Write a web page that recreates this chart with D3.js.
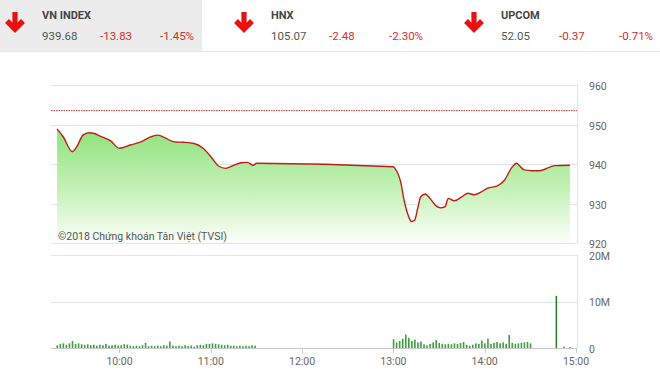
<!DOCTYPE html>
<html>
<head>
<meta charset="utf-8">
<script src="https://cdn.jsdelivr.net/npm/d3@7"></script>
<style>
  body { margin: 0; background: #fff; font-family: Roboto, "Noto Sans", sans-serif; }
  svg text { font-family: Roboto, "Noto Sans", sans-serif; }
</style>
</head>
<body>
<main></main>
<script>
// header quotes
const markets = ['VN INDEX', 'HNX', 'UPCOM'];
const lastValues = ['939.68', '105.07', '52.05'];
const changes = ['-13.83', '-2.48', '-0.37'];
const changePcts = ['-1.45%', '-2.30%', '-0.71%'];

// intraday VN-Index (time, value)
const priceTimes = ['9:19', '9:23', '9:29', '9:32', '9:36', '9:40', '9:43', '9:47', '9:54', '10:00',
  '10:07', '10:14', '10:20', '10:25', '10:29', '10:36', '10:42', '10:49', '10:55', '11:01',
  '11:05', '11:10', '11:14', '11:20', '11:24', '11:28', '11:30', '13:00', '13:01', '13:05',
  '13:07', '13:10', '13:12', '13:14', '13:16', '13:18', '13:21', '13:24', '13:28', '13:31',
  '13:34', '13:36', '13:40', '13:45', '13:49', '13:53', '13:58', '14:02', '14:08', '14:13',
  '14:18', '14:21', '14:23', '14:26', '14:31', '14:36', '14:46', '14:56'];
const priceValues = [948.9, 946.9, 943.1, 944.4, 947.3, 947.9, 947.8, 947.1, 945.9, 944.0,
  944.8, 945.6, 946.8, 947.3, 946.8, 945.6, 945.5, 945.2, 944.0, 941.4,
  939.5, 938.9, 939.5, 940.3, 940.4, 939.7, 940.2, 939.3, 938.9, 935.1,
  930.9, 926.7, 925.4, 925.8, 928.8, 931.7, 932.4, 931.3, 929.4, 928.9,
  929.2, 931.3, 930.7, 931.7, 932.6, 932.2, 933.0, 933.9, 934.4, 935.9,
  939.2, 940.2, 939.5, 938.5, 938.3, 938.3, 939.6, 939.68];
const refValue = 953.51;

// volume in millions, every 2 minutes
const morningStart = '9:19';
const morningVolume = [0.6, 0.9, 1.0, 0.7, 1.0, 1.5, 0.9, 1.0, 0.8, 0.7, 0.8, 0.6, 0.7, 0.5, 0.7, 0.6,
  0.9, 0.5, 0.6, 0.7, 0.5, 0.6, 0.8, 0.7, 0.5, 0.4, 0.5, 0.4, 0.6, 1.1, 0.4, 0.5,
  0.4, 0.5, 0.4, 0.6, 0.5, 1.4, 0.5, 0.4, 0.5, 0.4, 0.6, 0.4, 0.5, 0.3, 0.6, 0.7,
  0.6, 0.9, 0.9, 1.0, 0.9, 0.8, 0.7, 0.6, 0.7, 0.5, 0.5, 0.4, 0.5, 0.4, 0.5, 0.4,
  0.6, 0.5];
const afternoonStart = '13:00';
const afternoonVolume = [1.9, 1.2, 1.5, 2.0, 2.9, 2.2, 1.5, 1.8, 1.2, 1.4, 0.8, 0.6, 0.9, 1.2, 1.7, 1.1,
  0.9, 0.8, 0.9, 0.8, 1.0, 0.9, 1.1, 1.3, 0.7, 0.5, 0.7, 1.0, 0.9, 1.6, 1.0, 2.0,
  0.9, 1.1, 1.3, 1.0, 1.2, 0.9, 2.8, 1.1, 0.9, 1.0, 1.1, 1.2, 1.3, 1.0];
const atcTimes = ['14:47', '14:52', '14:56'];
const atcVolume = [11.2, 0.3, 0.2];

const timeTicks = ['10:00', '11:00', '12:00', '13:00', '14:00', '15:00'];
const priceTicks = [920, 930, 940, 950, 960];
const volumeTicks = [0, 10, 20];

function toMin(s) {
  const p = s.split(':');
  return +p[0] * 60 + +p[1];
}

const width = 660;
const height = 374;
const left = 51, right = 577;

let svg = d3.select('main')
  .append('svg')
  .attr('width', width)
  .attr('height', height);

// ---- header ----
svg.append('rect')
  .attr('x', 0).attr('y', 0)
  .attr('width', 202).attr('height', 51)
  .attr('fill', '#ececec');
svg.append('line')
  .attr('x1', 0).attr('x2', width)
  .attr('y1', 51.5).attr('y2', 51.5)
  .attr('stroke', '#e6e6e6');

const blockX = [0, 229, 459];
markets.forEach(function (m, i) {
  const bx = blockX[i];
  const cx = bx + 15;
  let g = svg.append('g');
  g.append('rect')
    .attr('x', cx - 2.6).attr('y', 12)
    .attr('width', 5.2).attr('height', 16)
    .attr('fill', '#e8110f');
  g.append('path')
    .attr('d', 'M' + (cx - 8) + ',21 L' + cx + ',29 L' + (cx + 8) + ',21')
    .attr('fill', 'none')
    .attr('stroke', '#e8110f')
    .attr('stroke-width', 5.5)
    .attr('stroke-linejoin', 'miter');
  g.append('text')
    .attr('x', bx + 42).attr('y', 18.5)
    .attr('font-size', 11).attr('font-weight', 'bold')
    .attr('fill', '#444')
    .text(m);
  g.append('text')
    .attr('x', bx + 42).attr('y', 39.5)
    .attr('font-size', 11.5).attr('fill', '#555')
    .text(lastValues[i]);
  g.append('text')
    .attr('x', bx + 100).attr('y', 39.5)
    .attr('font-size', 11.5).attr('fill', '#d32f2f')
    .text(changes[i]);
  g.append('text')
    .attr('x', bx + 160).attr('y', 39.5)
    .attr('font-size', 11.5).attr('fill', '#d32f2f')
    .text(changePcts[i]);
});

// ---- scales ----
const x = d3.scaleLinear().domain([toMin('9:15'), toMin('15:00')]).range([left, right - 1]);
const y = d3.scaleLinear().domain([920, 960]).range([243, 85]);
const yv = d3.scaleLinear().domain([0, 20]).range([348, 255]);

// ---- price panel ----
svg.selectAll('.pgrid')
  .data(priceTicks)
  .enter()
  .append('line')
  .attr('class', 'pgrid')
  .attr('x1', left).attr('x2', right)
  .attr('y1', function (d) { return Math.round(y(d)) + 0.5; })
  .attr('y2', function (d) { return Math.round(y(d)) + 0.5; })
  .attr('stroke', '#e3e3e3');
svg.append('line')
  .attr('x1', right + 0.5).attr('x2', right + 0.5)
  .attr('y1', y(960)).attr('y2', y(920))
  .attr('stroke', '#e3e3e3');

svg.selectAll('.plabel')
  .data(priceTicks)
  .enter()
  .append('text')
  .attr('class', 'plabel')
  .attr('x', 589)
  .attr('y', function (d) { return y(d) + 5; })
  .attr('font-size', 10.5)
  .attr('fill', '#666')
  .text(function (d) { return d; });

let defs = svg.append('defs');
let grad = defs.append('linearGradient')
  .attr('id', 'areaFill')
  .attr('gradientUnits', 'userSpaceOnUse')
  .attr('x1', 0).attr('x2', 0)
  .attr('y1', y(949)).attr('y2', y(920));
grad.append('stop').attr('offset', 0).attr('stop-color', '#8ee27c');
grad.append('stop').attr('offset', 0.55).attr('stop-color', '#c6f2b8');
grad.append('stop').attr('offset', 1).attr('stop-color', '#fbfffa');

const pts = priceTimes.map(function (t, i) { return [toMin(t), priceValues[i]]; });

svg.append('path')
  .datum(pts)
  .attr('d', d3.area()
    .x(function (d) { return x(d[0]); })
    .y0(y(920))
    .y1(function (d) { return y(d[1]); })
    .curve(d3.curveMonotoneX))
  .attr('fill', 'url(#areaFill)');

svg.append('line')
  .attr('x1', left).attr('x2', right)
  .attr('y1', y(refValue)).attr('y2', y(refValue))
  .attr('stroke', '#b5322a')
  .attr('stroke-width', 1)
  .attr('stroke-dasharray', '1.5,1');

svg.append('path')
  .datum(pts)
  .attr('d', d3.line()
    .x(function (d) { return x(d[0]); })
    .y(function (d) { return y(d[1]); })
    .curve(d3.curveMonotoneX))
  .attr('fill', 'none')
  .attr('stroke', '#bf1e16')
  .attr('stroke-width', 1.4);

svg.append('text')
  .attr('x', 58).attr('y', 239.5)
  .attr('font-size', 10.5)
  .attr('fill', '#555')
  .text('©2018 Chứng khoán Tân Việt (TVSI)');

// ---- volume panel ----
svg.selectAll('.vgrid')
  .data(volumeTicks.slice(1))
  .enter()
  .append('line')
  .attr('class', 'vgrid')
  .attr('x1', left).attr('x2', right)
  .attr('y1', function (d) { return Math.round(yv(d)) + 0.5; })
  .attr('y2', function (d) { return Math.round(yv(d)) + 0.5; })
  .attr('stroke', '#e3e3e3');
svg.append('line')
  .attr('x1', right + 0.5).attr('x2', right + 0.5)
  .attr('y1', yv(20)).attr('y2', yv(0))
  .attr('stroke', '#e3e3e3');

svg.selectAll('.vlabel')
  .data(volumeTicks)
  .enter()
  .append('text')
  .attr('class', 'vlabel')
  .attr('x', 589)
  .attr('y', function (d) { return yv(d) + 4.5; })
  .attr('font-size', 10.5)
  .attr('fill', '#666')
  .text(function (d) { return d === 0 ? '0' : d + 'M'; });

let bars = [];
morningVolume.forEach(function (v, i) { bars.push([toMin(morningStart) + i * 2, v]); });
afternoonVolume.forEach(function (v, i) { bars.push([toMin(afternoonStart) + i * 2, v]); });
atcTimes.forEach(function (t, i) { bars.push([toMin(t), atcVolume[i]]); });

svg.selectAll('.vbar')
  .data(bars)
  .enter()
  .append('rect')
  .attr('class', 'vbar')
  .attr('x', function (d) { return x(d[0]) - 0.6; })
  .attr('width', function (d) { return d[1] > 5 ? 1.4 : 1.6; })
  .attr('y', function (d) { return yv(d[1]); })
  .attr('height', function (d) { return yv(0) - yv(d[1]); })
  .attr('fill', function (d) { return d[1] > 5 ? '#1f7d1f' : '#3c9e3c'; });

// time axis
svg.append('line')
  .attr('x1', left).attr('x2', right)
  .attr('y1', 348.5).attr('y2', 348.5)
  .attr('stroke', '#c8c8c8');

svg.selectAll('.xtick')
  .data(timeTicks)
  .enter()
  .append('line')
  .attr('class', 'xtick')
  .attr('x1', function (d) { return Math.round(x(toMin(d))) + 0.5; })
  .attr('x2', function (d) { return Math.round(x(toMin(d))) + 0.5; })
  .attr('y1', 348).attr('y2', 353)
  .attr('stroke', '#c8c8c8');

svg.selectAll('.xlabel')
  .data(timeTicks)
  .enter()
  .append('text')
  .attr('class', 'xlabel')
  .attr('x', function (d) { return x(toMin(d)); })
  .attr('y', 364.5)
  .attr('text-anchor', 'middle')
  .attr('font-size', 10.5)
  .attr('fill', '#666')
  .text(function (d) { return d; });
</script>
</body>
</html>
